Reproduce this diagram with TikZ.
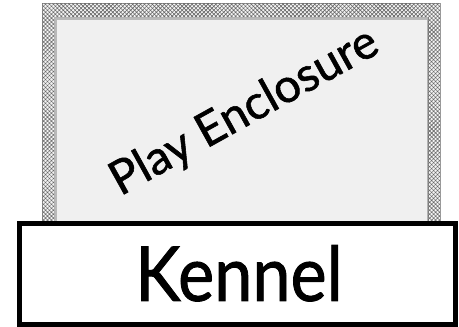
\documentclass[tikz,border=0pt]{standalone}
\usepackage{fontspec}
\newfontfamily\comicfont[FakeBold=1.2]{Lato}
\usetikzlibrary{patterns.meta}
\definecolor{innerfill}{HTML}{F0F0F0}
\definecolor{bandfill}{HTML}{F4F4F4}
\tikzset{
  band/.style={fill=bandfill, draw=gray!80, line width=0.6pt},
  hatch/.style={pattern={Lines[angle=45,distance=2.8pt,line width=0.6pt]}, pattern color=black!60},
  hatchb/.style={pattern={Lines[angle=-45,distance=2.8pt,line width=0.6pt]}, pattern color=black!60},
  kennelbox/.style={draw=black, line width=5pt, fill=white, minimum width=436pt, minimum height=100.5pt, inner sep=0pt},
  bigtext/.style={font=\comicfont\fontsize{76}{80}\selectfont, inner sep=0pt, text depth=0pt},
  slanttext/.style={font=\comicfont\fontsize{47}{50}\selectfont, inner sep=0pt},
}
\begin{document}
\begin{tikzpicture}[x=1pt,y=-1pt]
\useasboundingbox (0,0) rectangle (459,327);
% hatched frame
\path[band, even odd rule] (42,3) rectangle (440,222) (54,17) rectangle (428,222);
\path[hatch, even odd rule] (42,3) rectangle (440,222) (54,17) rectangle (428,222);
\path[hatchb, even odd rule] (42,3) rectangle (440,222) (54,17) rectangle (428,222);
% inner area
\path[fill=innerfill] (54.5,17.5) rectangle (427.5,222);
\draw[gray!55, line width=2pt] (56,222) -- (56,19) -- (427,19);
\draw[gray!60, line width=0.5pt] (54.5,222) -- (54.5,17.5) -- (427.5,17.5) -- (427.5,222);
% label
\node[slanttext, rotate=29, anchor=base] (play) at (251,124) {Play Enclosure};
% kennel
\node[kennelbox] (kennel) at (237,273.75) {};
\node[bigtext, xscale=0.9] (kenneltext) at (239,273) {Kennel};
\end{tikzpicture}
\end{document}
